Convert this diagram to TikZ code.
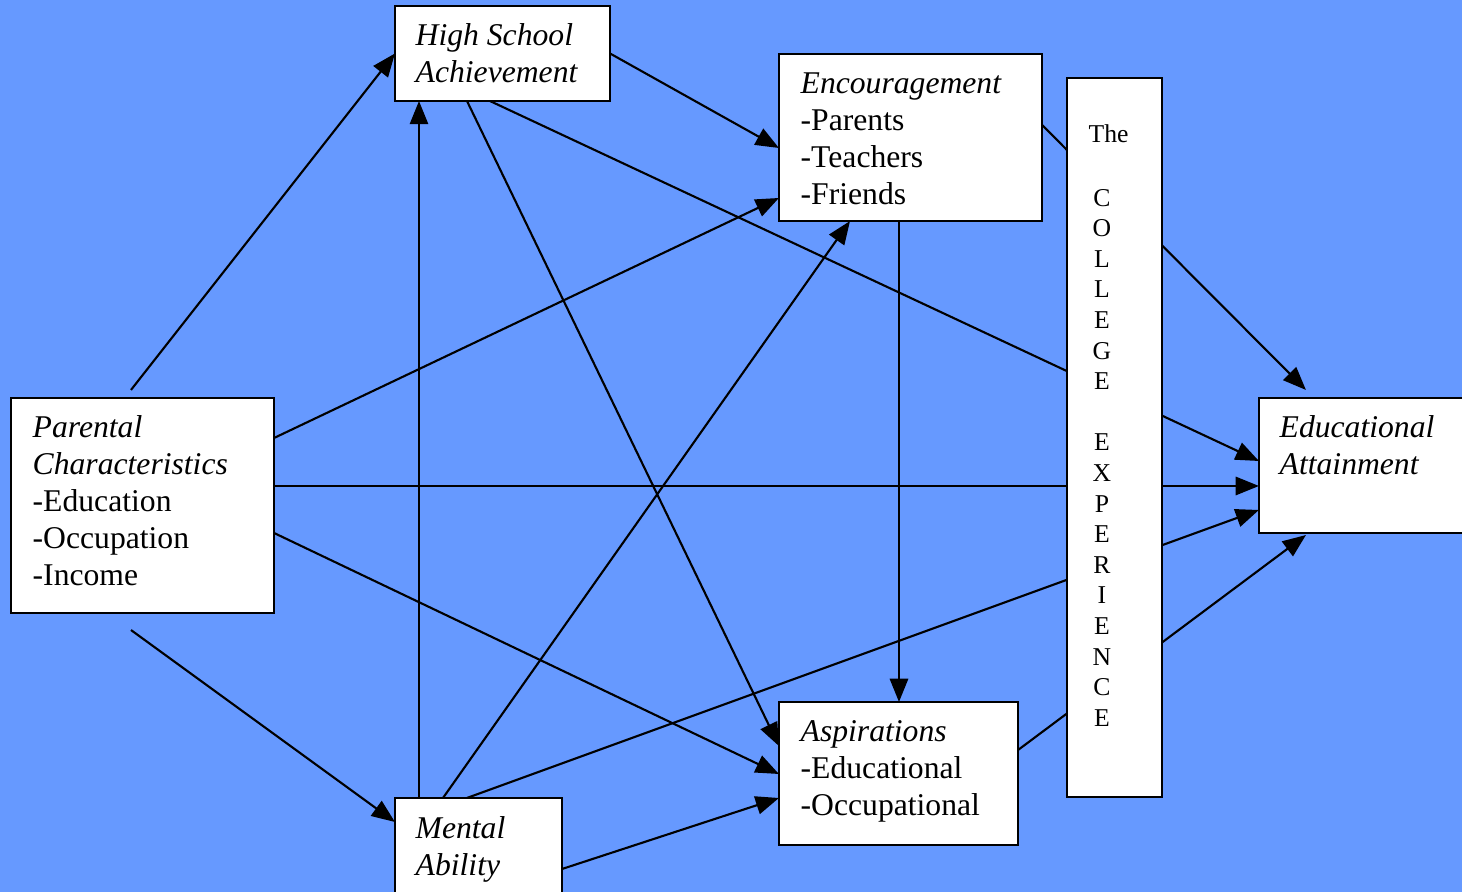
\documentclass[tikz,border=0pt]{standalone}
\usepackage{fontspec}
\setmainfont{Liberation Serif}
\usetikzlibrary{arrows.meta,calc}
\definecolor{sky}{RGB}{102,153,255}
\pgfdeclarelayer{paper}
\pgfdeclarelayer{wires}
\pgfsetlayers{paper,wires,main}

\begin{document}
\begin{tikzpicture}[x=0.01cm,y=-0.01cm,
  box/.style={draw=black,fill=white,line width=0.6pt,inner sep=0pt,outer sep=0pt},
  lbl/.style={anchor=north west,inner sep=0pt,align=left,font=\fontsize{9}{10.5}\selectfont},
  wire/.style={line width=0.6pt},
  arr/.style={wire,-{Triangle[length=6.6pt,width=5.2pt]}}]

\useasboundingbox (0,0) rectangle (1462,892);
\begin{pgfonlayer}{paper}
  \fill[sky] (0,0) rectangle (1462,892);
\end{pgfonlayer}
\clip (0,0) rectangle (1462,892);

% boxes
\node[box,minimum width=2.15cm,minimum height=0.95cm] (hsa) at (502.5,53.5) {};
\node[box,minimum width=2.63cm,minimum height=1.67cm] (enc) at (910.5,137.5) {};
\node[box,minimum width=0.95cm,minimum height=7.19cm] (col) at (1114.5,437.5) {};
\node[box,minimum width=2.63cm,minimum height=2.15cm] (par) at (142.5,505.5) {};
\node[box,minimum width=2.21cm,minimum height=1.35cm] (edu) at (1369.5,465.5) {};
\node[box,minimum width=2.39cm,minimum height=1.43cm] (asp) at (898.5,773.5) {};
\node[box,minimum width=1.67cm,minimum height=1.12cm] (men) at (478.5,854) {};

% box texts
\node[lbl] (hsaT) at (415,19.2) {\strut\textit{High School}\\\textit{Achievement}};
\node[lbl] (encT) at (800,67.2) {\strut\textit{Encouragement}\\-Parents\\-Teachers\\-Friends};
\node[lbl] (parT) at (32,411.2) {\strut\textit{Parental}\\\textit{Characteristics}\\-Education\\-Occupation\\-Income};
\node[lbl] (eduT) at (1279,411.2) {\strut\textit{Educational}\\\textit{Attainment}};
\node[lbl] (aspT) at (800,715.2) {\strut\textit{Aspirations}\\-Educational\\-Occupational};
\node[lbl] (menT) at (415,812.2) {\strut\textit{Mental}\\\textit{Ability}};

\node[anchor=base west,inner sep=0pt,font=\fontsize{7.3}{8.7}\selectfont] (colThe) at (1088,143) {The};
\node[anchor=north,inner sep=0pt,align=center,font=\fontsize{7.3}{8.7}\selectfont] (colT) at (1102,184)
  {\strut C\\O\\L\\L\\E\\G\\E\\[8.7pt]E\\X\\P\\E\\R\\I\\E\\N\\C\\E};

% free ends of connectors
\coordinate (parUp) at ($(par.north)+(-11.5,-8)$);
\coordinate (parDn) at ($(par.south)+(-11.5,17)$);
\coordinate (eduTop) at ($(edu.north west)+(47,-8)$);
\coordinate (eduBot) at ($(edu.south west)+(47,2)$);

% connectors, drawn beneath the boxes
\begin{pgfonlayer}{wires}
  \draw[arr] (parUp) -- (hsa.west);
  \draw[arr] (parDn) -- (men.west |- 0,822);
  \draw[arr] (par.east |- 0,438) -- (enc.west |- 0,198);
  \draw[arr] (par.east |- 0,486) -- (edu.west |- 0,486);
  \draw[arr] (par.east |- 0,533) -- (asp.west |- 0,774);
  \draw[arr] (hsa.east) -- (enc.west |- 0,148);
  \draw[arr] (hsa.south -| 490,0) -- (edu.west |- 0,461);
  \draw[arr] (hsa.south -| 467,0) -- (asp.west |- 0,746);
  \draw[arr] (men.north -| 419,0) -- (hsa.south -| 419,0);
  \draw[arr] (men.north -| 443,0) -- (enc.south -| 850,0);
  \draw[arr] (men.north -| 467,0) -- (edu.west |- 0,510);
  \draw[arr] (men.east |- 0,869) -- (asp.west |- 0,798);
  \draw[arr] (enc.south -| 899,0) -- (asp.north -| 899,0);
  \draw[arr] (enc.east |- 0,125) -- (eduTop);
  \draw[arr] (asp.east |- 0,750) -- (eduBot);
\end{pgfonlayer}
\end{tikzpicture}
\end{document}
